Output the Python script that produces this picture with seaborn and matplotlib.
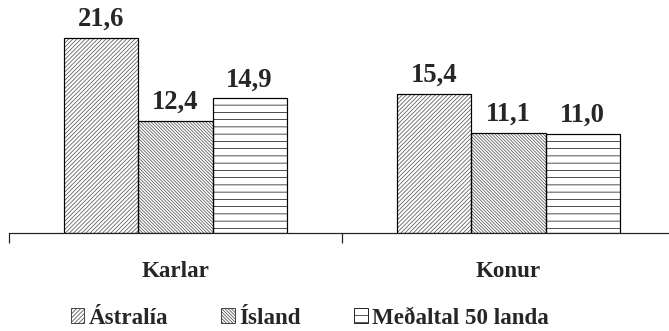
import matplotlib
matplotlib.use("Agg")
import matplotlib.pyplot as plt
from matplotlib.patches import Patch, Rectangle
import seaborn as sns
import pandas as pd

# Values by sex (Karlar = men, Konur = women) for each group
categories = ["Karlar", "Konur"]
groups = ["Ástralía", "Ísland", "Meðaltal 50 landa"]
astralia = [21.6, 15.4]
island = [12.4, 11.1]
medaltal = [14.9, 11.0]

hatches = ["///////", "\\" * 9, "--"]
hatch_colors = ["#505050", "#505050", "#111111"]

df = pd.DataFrame({
    "kyn": categories * 3,
    "hopur": [g for g in groups for _ in categories],
    "gildi": astralia + island + medaltal,
})

sns.set_style("white")
plt.rcParams["font.family"] = ["Liberation Serif", "DejaVu Serif"]
plt.rcParams["font.weight"] = "bold"
plt.rcParams["hatch.linewidth"] = 0.6

DPI = 87
fig = plt.figure(figsize=(669 / DPI, 331 / DPI), dpi=DPI)
ax = fig.add_axes([9 / 669, (331 - 233) / 331, 666 / 669, 233 / 331])

sns.barplot(data=df, x="kyn", y="gildi", hue="hopur", order=categories,
            hue_order=groups, palette=["white"] * 3, width=0.667,
            linewidth=0, legend=False, ax=ax)

for cont, h, hc in zip(ax.containers, hatches, hatch_colors):
    for bar in cont:
        # hatch drawn in its own colour, then a black outline on top
        bar.set_hatch(h)
        bar.set_facecolor("white")
        bar.set_edgecolor(hc)
        bar.set_linewidth(0)
        ax.add_patch(Rectangle(bar.get_xy(), bar.get_width(), bar.get_height(),
                               fill=False, edgecolor="black", linewidth=1.0,
                               zorder=bar.get_zorder() + 0.1))
    ax.bar_label(cont, labels=[f"{v:.1f}".replace(".", ",") for v in cont.datavalues],
                 padding=5, fontsize=22, fontweight="bold")

ax.set_xlim(-0.5, 1.5)
ax.set_ylim(0, 25.8)
ax.set_xlabel("")
ax.set_ylabel("")
ax.set_yticks([])
for s in ["top", "right", "left"]:
    ax.spines[s].set_visible(False)
ax.spines["bottom"].set_linewidth(1.0)
ax.spines["bottom"].set_color("#222222")

ax.set_xticks([0, 1])
ax.set_xticklabels(categories, fontsize=19, fontweight="bold")
ax.tick_params(axis="x", which="major", length=0, pad=23, bottom=True)
ax.set_xticks([-0.5, 0.5, 1.5], minor=True)
ax.tick_params(axis="x", which="minor", length=8, width=1.0, color="#222222",
               direction="out", bottom=True)

handles = [Patch(facecolor="white", edgecolor=c, hatch=h, linewidth=0.8)
           for h, c in zip(hatches, ["#444444", "#444444", "#222222"])]
fig.legend(handles, groups, loc="center", bbox_to_anchor=(0.463, 1 - 318 / 331),
           ncol=3, frameon=False, handlelength=0.6, handleheight=0.6,
           handletextpad=0.2, columnspacing=2.3,
           prop={"family": "Liberation Serif", "weight": "bold", "size": 19})

fig.savefig("out.png", dpi=DPI)
